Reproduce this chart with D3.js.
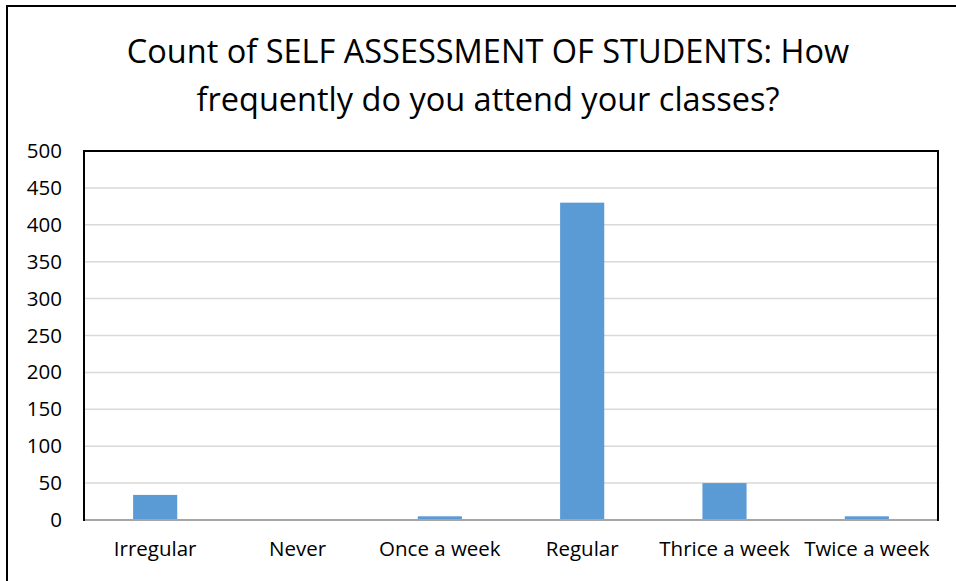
<!DOCTYPE html>
<html>
<head>
<meta charset="utf-8">
<script src="https://cdn.jsdelivr.net/npm/d3@7"></script>
<style>
  body { margin: 0; background: #fff; }
  svg { display: block; }
</style>
</head>
<body>
<svg id="chart" width="956" height="581"></svg>
<script>
// данные графика
const categories = ["Irregular", "Never", "Once a week", "Regular", "Thrice a week", "Twice a week"];
const counts = [34, 0, 5, 430, 50, 5];
const yTicks = [0, 50, 100, 150, 200, 250, 300, 350, 400, 450, 500];
const titleLines = ["Count of SELF ASSESSMENT OF STUDENTS: How", "frequently do you attend your classes?"];

const svg = d3.select("#chart");
const font = "'Open Sans', sans-serif";

const area = { left: 84, right: 938, top: 151, bottom: 520 };

// внешняя рамка
svg.append("rect")
    .attr("x", 7).attr("y", 6)
    .attr("width", 960).attr("height", 590)
    .attr("fill", "none").attr("stroke", "#000").attr("stroke-width", 2);

// заголовок
svg.append("g").selectAll("text")
    .data(titleLines)
    .enter()
    .append("text")
    .attr("x", 488)
    .attr("y", (d, i) => 63 + i * 48)
    .attr("text-anchor", "middle")
    .style("font-family", font)
    .style("font-size", "32.5px")
    .attr("fill", "#000")
    .text(d => d);

let scX = d3.scaleBand()
    .domain(categories)
    .range([area.left, area.right])
    .paddingInner(0.69)
    .paddingOuter(0.345);

let scY = d3.scaleLinear()
    .domain([0, 500])
    .range([area.bottom, area.top]);

// сетка
svg.append("g").selectAll("line")
    .data(yTicks.filter(d => d > 0 && d < 500))
    .enter()
    .append("line")
    .attr("x1", area.left).attr("x2", area.right)
    .attr("y1", d => scY(d)).attr("y2", d => scY(d))
    .attr("stroke", "#d9d9d9").attr("stroke-width", 1.5);

// столбцы
svg.append("g").selectAll("rect")
    .data(categories)
    .enter()
    .append("rect")
    .attr("x", d => scX(d))
    .attr("y", (d, i) => scY(counts[i]))
    .attr("width", scX.bandwidth())
    .attr("height", (d, i) => scY(0) - scY(counts[i]))
    .attr("fill", "#5b9bd5");

// ось X (серая линия)
svg.append("line")
    .attr("x1", area.left).attr("x2", area.right)
    .attr("y1", area.bottom).attr("y2", area.bottom)
    .attr("stroke", "#a6a6a6").attr("stroke-width", 2);

// рамка области графика
svg.append("path")
    .attr("d", `M${area.left},${area.bottom + 1}V${area.top}H${area.right}V${area.bottom + 1}`)
    .attr("fill", "none").attr("stroke", "#000").attr("stroke-width", 2);

// ось Y
const axY = svg.append("g")
    .attr("transform", `translate(${area.left},0)`)
    .call(d3.axisLeft(scY).tickValues(yTicks).tickSize(0).tickPadding(22));
axY.select(".domain").remove();
axY.selectAll("text")
    .style("font-family", font).style("font-size", "20.5px").attr("fill", "#000");

// ось X подписи
const axX = svg.append("g")
    .attr("transform", `translate(0,${area.bottom})`)
    .call(d3.axisBottom(scX).tickSize(0).tickPadding(21));
axX.select(".domain").remove();
axX.selectAll("text")
    .style("font-family", font).style("font-size", "20.5px").attr("fill", "#000");
</script>
</body>
</html>
